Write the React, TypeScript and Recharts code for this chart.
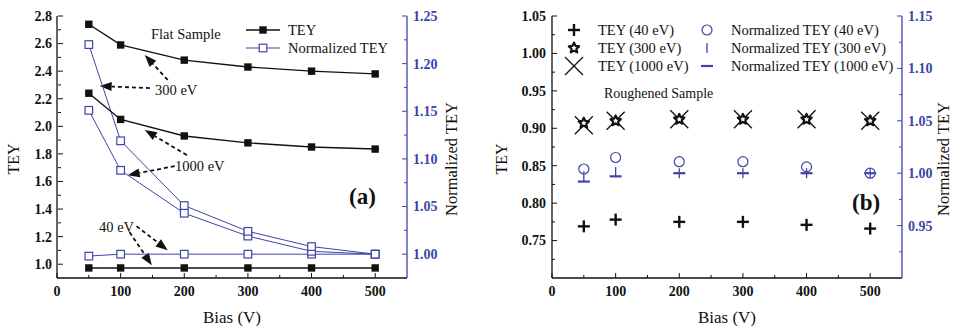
import React from 'react';
import { ComposedChart, Line, Scatter, XAxis, YAxis, ReferenceLine } from 'recharts';

// bias voltage (V)
const bias = [50, 100, 200, 300, 400, 500];

// (a) flat sample
const tey300Flat = [2.74, 2.59, 2.48, 2.43, 2.4, 2.38];
const tey1000Flat = [2.24, 2.05, 1.93, 1.88, 1.85, 1.835];
const tey40Flat = [0.973, 0.973, 0.973, 0.973, 0.973, 0.973];
const norm300Flat = [1.22, 1.119, 1.051, 1.024, 1.008, 1.0];
const norm1000Flat = [1.151, 1.088, 1.043, 1.019, 1.003, 1.0];
const norm40Flat = [0.998, 1.0, 1.0, 1.0, 1.0, 1.0];

// (b) roughened sample
const tey40Rough = [0.769, 0.778, 0.775, 0.775, 0.771, 0.766];
const tey300Rough = [0.907, 0.91, 0.912, 0.912, 0.912, 0.91];
const tey1000Rough = [0.904, 0.91, 0.912, 0.912, 0.912, 0.91];
const norm40Rough = [1.004, 1.015, 1.011, 1.011, 1.006, 1.0];
const norm300Rough = [0.997, 1.001, 1.0, 1.0, 1.0, 1.0];
const norm1000Rough = [0.992, 0.997, 1.0, 1.0, 1.0, 1.0];

// ticks
const xTicks = [0, 50, 100, 150, 200, 250, 300, 350, 400, 450, 500];
const xMajor = [0, 100, 200, 300, 400, 500];
const yTicksA = [1.0, 1.1, 1.2, 1.3, 1.4, 1.5, 1.6, 1.7, 1.8, 1.9, 2.0, 2.1, 2.2, 2.3, 2.4, 2.5, 2.6, 2.7, 2.8];
const yMajorA = [1.0, 1.2, 1.4, 1.6, 1.8, 2.0, 2.2, 2.4, 2.6, 2.8];
const y2TicksA = [1.0, 1.025, 1.05, 1.075, 1.1, 1.125, 1.15, 1.175, 1.2, 1.225, 1.25];
const y2MajorA = [1.0, 1.05, 1.1, 1.15, 1.2, 1.25];
const yTicksB = [0.725, 0.75, 0.775, 0.8, 0.825, 0.85, 0.875, 0.9, 0.925, 0.95, 0.975, 1.0, 1.025, 1.05];
const yMajorB = [0.7, 0.75, 0.8, 0.85, 0.9, 0.95, 1.0, 1.05];
const y2TicksB = [0.925, 0.95, 0.975, 1.0, 1.025, 1.05, 1.075, 1.1, 1.125, 1.15];
const y2MajorB = [0.9, 0.95, 1.0, 1.05, 1.1, 1.15];

// dashed arrows in panel (a): [bias, TEY] tail -> head
const arrowsA = [
  { from: [174, 2.336], to: [138, 2.517] },
  { from: [146, 2.277], to: [67, 2.292] },
  { from: [204, 1.791], to: [138, 1.973] },
  { from: [185, 1.711], to: [111, 1.646] },
  { from: [125, 1.276], to: [174, 1.102] },
  { from: [114, 1.233], to: [149, 0.993] },
];

const flatData = bias.map((b, i) => ({
  bias: b,
  tey300: tey300Flat[i],
  tey1000: tey1000Flat[i],
  tey40: tey40Flat[i],
  norm300: norm300Flat[i],
  norm1000: norm1000Flat[i],
  norm40: norm40Flat[i],
}));

const roughData = bias.map((b, i) => ({
  bias: b,
  tey40: tey40Rough[i],
  tey300: tey300Rough[i],
  tey1000: tey1000Rough[i],
  norm40: norm40Rough[i],
  norm300: norm300Rough[i],
  norm1000: norm1000Rough[i],
}));

const BLUE = '#3d45a6';
const BLACK = '#111';
const FONT = "'Liberation Serif', Tinos, 'Times New Roman', 'DejaVu Serif', serif";
const M = 6;

// tick renderer drawing inward tick marks, labels only for major values
const makeTick = (side: string, major: number[], digits: number, color: string) => (p: any) => {
  const { x, y, payload } = p;
  const v = payload.value;
  const isMajor = major.some((m) => Math.abs(m - v) < 1e-6);
  const L = isMajor ? 5 : 3;
  const label = isMajor && side !== 'top' ? v.toFixed(digits) : '';
  const textStyle = { fontFamily: FONT, fontWeight: 700, fontSize: 14 };
  if (side === 'left') {
    const ax = x + M;
    return (
      <g>
        <line x1={ax} y1={y} x2={ax + L} y2={y} stroke={color} strokeWidth={1} />
        <text x={x} y={y} dy="0.35em" textAnchor="end" fill={color} style={textStyle}>{label}</text>
      </g>
    );
  }
  if (side === 'right') {
    const ax = x - M;
    return (
      <g>
        <line x1={ax} y1={y} x2={ax - L} y2={y} stroke={color} strokeWidth={1} />
        <text x={x} y={y} dy="0.35em" textAnchor="start" fill={color} style={textStyle}>{label}</text>
      </g>
    );
  }
  if (side === 'top') {
    const ay = y + M;
    return <line x1={x} y1={ay} x2={x} y2={ay + L} stroke={color} strokeWidth={1} />;
  }
  const ay = y - M;
  return (
    <g>
      <line x1={x} y1={ay} x2={x} y2={ay - L} stroke={color} strokeWidth={1} />
      <text x={x} y={y + 12} textAnchor="middle" fill={color} style={textStyle}>{label}</text>
    </g>
  );
};

const Arrow = (p: any) => {
  const { x1, y1, x2, y2 } = p;
  const ang = Math.atan2(y2 - y1, x2 - x1);
  const len = 12;
  const w = 4.5;
  const bx = x2 - len * Math.cos(ang);
  const by = y2 - len * Math.sin(ang);
  const px = -Math.sin(ang) * w;
  const py = Math.cos(ang) * w;
  return (
    <g>
      <line x1={x1} y1={y1} x2={bx} y2={by} stroke={BLACK} strokeWidth={1.8} strokeDasharray="4 3" />
      <polygon points={`${x2},${y2} ${bx + px},${by + py} ${bx - px},${by - py}`} fill={BLACK} />
    </g>
  );
};

const FilledSquare = (p: any) => (
  <rect key={p.index} x={p.cx - 3.7} y={p.cy - 3.7} width={7.4} height={7.4} fill={BLACK} />
);
const OpenSquare = (p: any) => (
  <rect key={p.index} x={p.cx - 3.8} y={p.cy - 3.8} width={7.6} height={7.6} fill="#fff" stroke={BLUE} strokeWidth={1.2} />
);

const starPoints = (cx: number, cy: number, ro: number, ri: number) => {
  const pts: string[] = [];
  for (let i = 0; i < 10; i++) {
    const r = i % 2 === 0 ? ro : ri;
    const a = -Math.PI / 2 + (i * Math.PI) / 5;
    pts.push(`${cx + r * Math.cos(a)},${cy + r * Math.sin(a)}`);
  }
  return pts.join(' ');
};

const PlusShape = (p: any) => (
  <g stroke={BLACK} strokeWidth={2.4}>
    <line x1={p.cx - 6} y1={p.cy} x2={p.cx + 6} y2={p.cy} />
    <line x1={p.cx} y1={p.cy - 6} x2={p.cx} y2={p.cy + 6} />
  </g>
);
const StarShape = (p: any) => (
  <polygon points={starPoints(p.cx, p.cy, 5.4, 2.6)} fill="#fff" stroke={BLACK} strokeWidth={2.2} strokeLinejoin="round" />
);
const CrossShape = (p: any) => (
  <g stroke={BLACK} strokeWidth={1.3}>
    <line x1={p.cx - 9} y1={p.cy - 9} x2={p.cx + 9} y2={p.cy + 9} />
    <line x1={p.cx - 9} y1={p.cy + 9} x2={p.cx + 9} y2={p.cy - 9} />
  </g>
);
const CircleShape = (p: any) => (
  <circle cx={p.cx} cy={p.cy} r={5} fill="none" stroke={BLUE} strokeWidth={1.2} />
);
const VBarShape = (p: any) => (
  <line x1={p.cx} y1={p.cy - 5} x2={p.cx} y2={p.cy + 5} stroke={BLUE} strokeWidth={1.3} />
);
const HBarShape = (p: any) => (
  <line x1={p.cx - 6} y1={p.cy} x2={p.cx + 6} y2={p.cy} stroke={BLUE} strokeWidth={2.2} />
);

const Txt = ({ x, y, size = 14.5, bold = false, color = BLACK, center = false, children }: any) => (
  <div
    style={{
      position: 'absolute',
      left: x,
      top: y,
      transform: center ? 'translate(-50%, -50%)' : 'translateY(-50%)',
      fontFamily: FONT,
      fontSize: size,
      fontWeight: bold ? 700 : 400,
      color,
      whiteSpace: 'nowrap',
      lineHeight: 1,
    }}
  >
    {children}
  </div>
);

const VTxt = ({ x, y, size = 16.5, children }: any) => (
  <div
    style={{
      position: 'absolute',
      left: x,
      top: y,
      transform: 'translate(-50%, -50%) rotate(-90deg)',
      fontFamily: FONT,
      fontSize: size,
      color: BLACK,
      whiteSpace: 'nowrap',
      lineHeight: 1,
    }}
  >
    {children}
  </div>
);

const Sym = ({ x, y, w, h, children }: any) => (
  <svg style={{ position: 'absolute', left: x - w / 2, top: y - h / 2 }} width={w} height={h}>
    {children}
  </svg>
);

const FlatChart = () => (
  <ComposedChart width={480} height={326} data={flatData} margin={{ top: 16, right: 23, bottom: 18, left: 7 }}>
    <XAxis
      xAxisId="b"
      dataKey="bias"
      type="number"
      domain={[0, 550]}
      ticks={xTicks}
      interval={0}
      height={30}
      tickSize={0}
      tickMargin={M}
      tick={makeTick('bottom', xMajor, 0, BLACK)}
      stroke={BLACK}
      strokeWidth={1.3}
    />
    <XAxis
      xAxisId="t"
      orientation="top"
      dataKey="bias"
      type="number"
      domain={[0, 550]}
      ticks={xTicks}
      interval={0}
      height={0}
      tickSize={0}
      tickMargin={M}
      tick={makeTick('top', xMajor, 0, BLACK)}
      stroke={BLACK}
      strokeWidth={1.3}
    />
    <YAxis
      yAxisId="left"
      type="number"
      domain={[0.9, 2.8]}
      ticks={yTicksA}
      interval={0}
      width={50}
      tickSize={0}
      tickMargin={5}
      tick={makeTick('left', yMajorA, 1, BLACK)}
      stroke={BLACK}
      strokeWidth={1.3}
    />
    <YAxis
      yAxisId="right"
      orientation="right"
      type="number"
      domain={[0.975, 1.25]}
      ticks={y2TicksA}
      interval={0}
      width={50}
      tickSize={0}
      tickMargin={M}
      tick={makeTick('right', y2MajorA, 2, BLUE)}
      stroke={BLUE}
      strokeWidth={1.3}
    />
    {arrowsA.map((a, i) => (
      <ReferenceLine
        key={i}
        xAxisId="b"
        yAxisId="left"
        segment={[
          { x: a.from[0], y: a.from[1] },
          { x: a.to[0], y: a.to[1] },
        ]}
        shape={Arrow}
      />
    ))}
    <Line xAxisId="b" yAxisId="right" dataKey="norm40" stroke={BLUE} strokeWidth={1} dot={OpenSquare} isAnimationActive={false} />
    <Line xAxisId="b" yAxisId="right" dataKey="norm1000" stroke={BLUE} strokeWidth={1} dot={OpenSquare} isAnimationActive={false} />
    <Line xAxisId="b" yAxisId="right" dataKey="norm300" stroke={BLUE} strokeWidth={1} dot={OpenSquare} isAnimationActive={false} />
    <Line xAxisId="b" yAxisId="left" dataKey="tey40" stroke={BLACK} strokeWidth={1.4} dot={FilledSquare} isAnimationActive={false} />
    <Line xAxisId="b" yAxisId="left" dataKey="tey1000" stroke={BLACK} strokeWidth={1.4} dot={FilledSquare} isAnimationActive={false} />
    <Line xAxisId="b" yAxisId="left" dataKey="tey300" stroke={BLACK} strokeWidth={1.4} dot={FilledSquare} isAnimationActive={false} />
  </ComposedChart>
);

const RoughChart = () => (
  <ComposedChart width={473} height={326} data={roughData} margin={{ top: 16, right: 1, bottom: 18, left: 12 }}>
    <XAxis
      xAxisId="b"
      dataKey="bias"
      type="number"
      domain={[0, 550]}
      ticks={xTicks}
      interval={0}
      height={30}
      tickSize={0}
      tickMargin={M}
      tick={makeTick('bottom', xMajor, 0, BLACK)}
      stroke={BLACK}
      strokeWidth={1.3}
    />
    <XAxis
      xAxisId="t"
      orientation="top"
      dataKey="bias"
      type="number"
      domain={[0, 550]}
      ticks={xTicks}
      interval={0}
      height={0}
      tickSize={0}
      tickMargin={M}
      tick={makeTick('top', xMajor, 0, BLACK)}
      stroke={BLACK}
      strokeWidth={1.3}
    />
    <YAxis
      yAxisId="left"
      type="number"
      domain={[0.7, 1.05]}
      ticks={yTicksB}
      interval={0}
      width={60}
      tickSize={0}
      tickMargin={M}
      tick={makeTick('left', yMajorB, 2, BLACK)}
      stroke={BLACK}
      strokeWidth={1.3}
    />
    <YAxis
      yAxisId="right"
      orientation="right"
      type="number"
      domain={[0.9, 1.15]}
      ticks={y2TicksB}
      interval={0}
      width={50}
      tickSize={0}
      tickMargin={M}
      tick={makeTick('right', y2MajorB, 2, BLUE)}
      stroke={BLUE}
      strokeWidth={1.3}
    />
    <Scatter xAxisId="b" yAxisId="right" dataKey="norm40" shape={CircleShape} isAnimationActive={false} />
    <Scatter xAxisId="b" yAxisId="right" dataKey="norm300" shape={VBarShape} isAnimationActive={false} />
    <Scatter xAxisId="b" yAxisId="right" dataKey="norm1000" shape={HBarShape} isAnimationActive={false} />
    <Scatter xAxisId="b" yAxisId="left" dataKey="tey40" shape={PlusShape} isAnimationActive={false} />
    <Scatter xAxisId="b" yAxisId="left" dataKey="tey1000" shape={CrossShape} isAnimationActive={false} />
    <Scatter xAxisId="b" yAxisId="left" dataKey="tey300" shape={StarShape} isAnimationActive={false} />
  </ComposedChart>
);

export default function App() {
  return (
    <div style={{ position: 'absolute', left: 0, top: 0, width: 953, height: 326, overflow: 'hidden', background: '#fff' }}>
      <div style={{ position: 'absolute', left: 0, top: 0 }}>
        <FlatChart />
      </div>
      <div style={{ position: 'absolute', left: 480, top: 0 }}>
        <RoughChart />
      </div>

      {/* panel (a) texts */}
      <VTxt x={14} y={159} size={16}>TEY</VTxt>
      <VTxt x={452} y={159}>Normalized TEY</VTxt>
      <Txt x={232} y={317} size={17} center>Bias (V)</Txt>
      <Txt x={151} y={34}>Flat Sample</Txt>
      <Txt x={155} y={90}>300 eV</Txt>
      <Txt x={175} y={166}>1000 eV</Txt>
      <Txt x={99} y={227}>40 eV</Txt>
      <Txt x={349} y={196} size={23} bold>(a)</Txt>

      <Sym x={263} y={30} w={34} h={10}>
        <line x1={0} y1={5} x2={34} y2={5} stroke={BLACK} strokeWidth={1.4} />
        <rect x={13.3} y={1.3} width={7.4} height={7.4} fill={BLACK} />
      </Sym>
      <Txt x={288} y={30}>TEY</Txt>
      <Sym x={263} y={48} w={34} h={10}>
        <line x1={0} y1={5} x2={34} y2={5} stroke={BLUE} strokeWidth={1} />
        <rect x={13.2} y={1.2} width={7.6} height={7.6} fill="#fff" stroke={BLUE} strokeWidth={1.2} />
      </Sym>
      <Txt x={288} y={48}>Normalized TEY</Txt>

      {/* panel (b) texts */}
      <VTxt x={502} y={159} size={16}>TEY</VTxt>
      <VTxt x={944} y={159}>Normalized TEY</VTxt>
      <Txt x={727} y={317} size={17} center>Bias (V)</Txt>
      <Txt x={604} y={94} size={14}>Roughened Sample</Txt>
      <Txt x={852} y={202} size={23} bold>(b)</Txt>

      <Sym x={574} y={30} w={20} h={20}><PlusShape cx={10} cy={10} /></Sym>
      <Txt x={598} y={30}>TEY (40 eV)</Txt>
      <Sym x={574} y={48} w={20} h={20}><StarShape cx={10} cy={10} /></Sym>
      <Txt x={598} y={48}>TEY (300 eV)</Txt>
      <Sym x={574} y={66} w={20} h={20}><CrossShape cx={10} cy={10} /></Sym>
      <Txt x={598} y={66}>TEY (1000 eV)</Txt>
      <Sym x={707} y={30} w={20} h={20}><CircleShape cx={10} cy={10} /></Sym>
      <Txt x={731} y={30}>Normalized TEY (40 eV)</Txt>
      <Sym x={707} y={48} w={20} h={20}><VBarShape cx={10} cy={10} /></Sym>
      <Txt x={731} y={48}>Normalized TEY (300 eV)</Txt>
      <Sym x={707} y={66} w={20} h={20}><HBarShape cx={10} cy={10} /></Sym>
      <Txt x={731} y={66}>Normalized TEY (1000 eV)</Txt>
    </div>
  );
}
